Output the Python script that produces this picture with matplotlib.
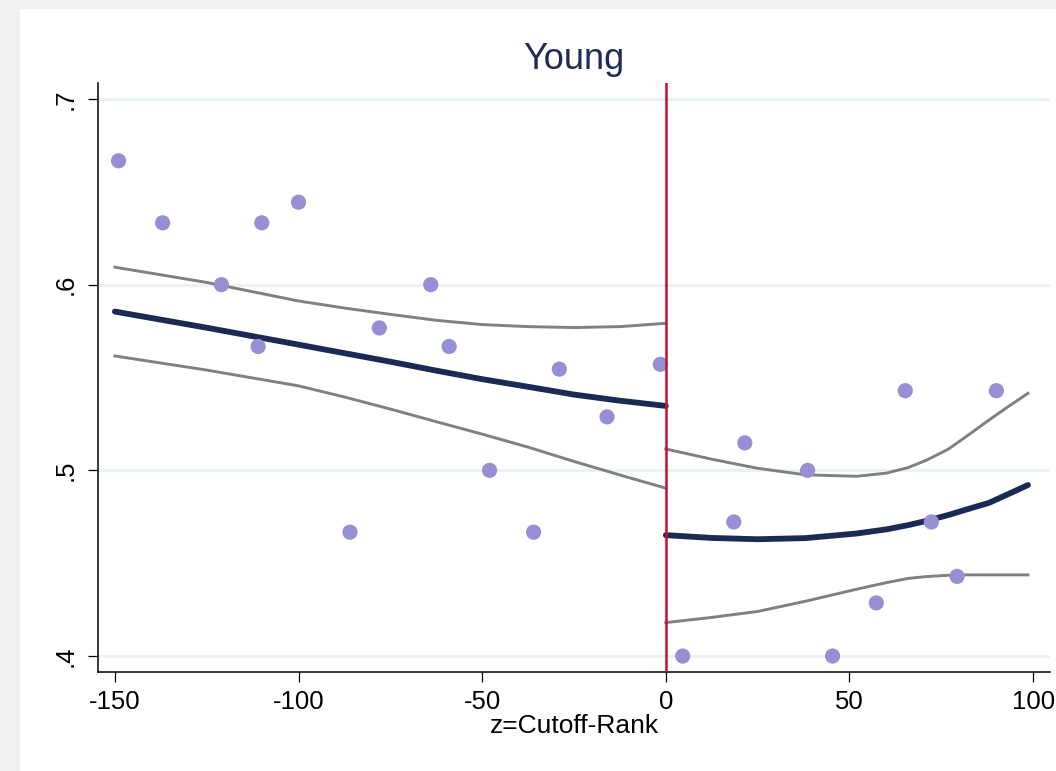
import matplotlib
matplotlib.use("Agg")
import matplotlib.pyplot as plt
from matplotlib.patches import Rectangle

# scatter (binned means)
bin_x = [-149, -137, -121, -110, -100, -111, -86, -78, -64, -59, -48, -36, -29, -16, -1.5,
         4.6, 18.5, 21.5, 38.6, 45.4, 57.3, 65.2, 72.3, 79.3, 90]
bin_y = [0.6667, 0.6333, 0.6, 0.6333, 0.6444, 0.5667, 0.4667, 0.5767, 0.6, 0.5667, 0.5,
         0.4667, 0.5545, 0.5288, 0.5571, 0.4, 0.4722, 0.5148, 0.5, 0.4, 0.4286, 0.5429,
         0.4722, 0.4429, 0.5429]

# left-hand fit and confidence band
left_x = [-150, -125, -100, -87.5, -75, -62.5, -50, -37.5, -25, -12.5, 0]
left_fit = [0.5855, 0.5768, 0.5677, 0.5631, 0.5585, 0.5537, 0.5491, 0.5450, 0.5408,
            0.5375, 0.5347]
left_hi = [0.6094, 0.6012, 0.5912, 0.5874, 0.5840, 0.5808, 0.5785, 0.5774, 0.5769,
           0.5774, 0.5792]
left_lo = [0.5616, 0.5540, 0.5455, 0.5395, 0.5330, 0.5262, 0.5195, 0.5125, 0.5048,
           0.4975, 0.4904]

# right-hand fit and confidence band
right_x = [0, 12.5, 25, 38, 52, 60, 66, 71, 77, 82, 88, 93, 98.6]
right_fit = [0.4651, 0.4636, 0.4629, 0.4635, 0.4660, 0.4682, 0.4705, 0.4728, 0.4760,
             0.4790, 0.4825, 0.4870, 0.4921]
right_hi = [0.5115, 0.5060, 0.5011, 0.4976, 0.4968, 0.4985, 0.5015, 0.5055, 0.5115,
            0.5185, 0.5271, 0.5340, 0.5415]
right_lo = [0.4180, 0.4208, 0.4240, 0.4295, 0.4360, 0.4395, 0.4418, 0.4428, 0.4435,
            0.4437, 0.4437, 0.4437, 0.4437]

x_ticks = [-150, -100, -50, 0, 50, 100]
y_ticks = [0.4, 0.5, 0.6, 0.7]
y_labels = [".4", ".5", ".6", ".7"]

navy = "#1a2a52"
band = "#808080"
dots = "#9590d4"

plt.rcParams["font.family"] = ["Liberation Sans", "DejaVu Sans"]
plt.rcParams["axes.unicode_minus"] = False

fig = plt.figure(figsize=(10.56, 7.71), dpi=100, facecolor="#eff0f2")
fig.patches.append(Rectangle((20 / 1056, 0), 1 - 20 / 1056, 762 / 771,
                             transform=fig.transFigure, facecolor="white",
                             edgecolor="none", zorder=-10))
ax = fig.add_axes([98 / 1056, 1 - 672 / 771, (1050 - 98) / 1056, (672 - 83) / 771])
ax.set_facecolor("white")

for yt in y_ticks:
    ax.axhline(yt, color="#eaf2f3", linewidth=2, zorder=0)

ax.scatter(bin_x, bin_y, s=120, color=dots, edgecolors="none", zorder=3)

ax.plot(left_x, left_hi, color=band, linewidth=2.1, zorder=2)
ax.plot(left_x, left_lo, color=band, linewidth=2.1, zorder=2)
ax.plot(left_x, left_fit, color=navy, linewidth=4.2, solid_capstyle="round", zorder=2)
ax.plot(right_x, right_hi, color=band, linewidth=2.1, zorder=2)
ax.plot(right_x, right_lo, color=band, linewidth=2.1, zorder=2)
ax.plot(right_x, right_fit, color=navy, linewidth=4.2, solid_capstyle="round", zorder=2)

ax.axvline(0, color="#c8102e", linewidth=1.8, zorder=4)

ax.set_xlim(-154.6, 104.6)
ax.set_ylim(0.3914, 0.7086)
ax.set_xticks(x_ticks)
ax.set_yticks(y_ticks)
ax.set_yticklabels(y_labels, rotation=90, va="center")

for side in ("top", "right"):
    ax.spines[side].set_visible(False)
for side in ("left", "bottom"):
    ax.spines[side].set_linewidth(1.1)
    ax.spines[side].set_color("black")

ax.tick_params(axis="both", direction="out", length=7, width=0.9, colors="black",
               labelsize=18.5)
ax.tick_params(axis="x", pad=6)
ax.tick_params(axis="y", pad=8)

ax.set_title("Young", fontsize=26, color="#1e2b54", pad=10)
ax.set_xlabel("z=Cutoff-Rank", fontsize=19, labelpad=0)

fig.savefig("out.png", dpi=100, facecolor=fig.get_facecolor())
